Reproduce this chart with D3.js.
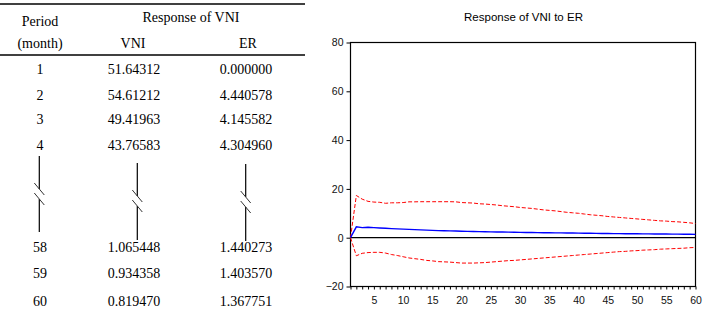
<!DOCTYPE html>
<html>
<head>
<meta charset="utf-8">
<script src="https://cdn.jsdelivr.net/npm/d3@7"></script>
<style>
  html, body { margin: 0; padding: 0; background: #fff; }
  svg { display: block; }
</style>
</head>
<body>
<div id="chart"></div>
<script>
// table data (Response of VNI)
const tablePeriods = ["1", "2", "3", "4", "58", "59", "60"]
const tableVNI = ["51.64312", "54.61212", "49.41963", "43.76583", "1.065448", "0.934358", "0.819470"]
const tableER = ["0.000000", "4.440578", "4.145582", "4.304960", "1.440273", "1.403570", "1.367751"]

// chart data: response of VNI to ER, periods 1..60
const response = [
  0.00, 4.44, 4.15, 4.30, 4.15, 4.00, 3.85, 3.72, 3.60, 3.50,
  3.40, 3.30, 3.20, 3.10, 3.00, 2.92, 2.85, 2.78, 2.72, 2.66,
  2.60, 2.55, 2.50, 2.45, 2.40, 2.36, 2.32, 2.28, 2.24, 2.20,
  2.16, 2.12, 2.08, 2.05, 2.02, 1.99, 1.96, 1.93, 1.90, 1.87,
  1.84, 1.81, 1.78, 1.75, 1.72, 1.69, 1.66, 1.64, 1.62, 1.60,
  1.58, 1.56, 1.54, 1.52, 1.50, 1.48, 1.46, 1.44, 1.40, 1.37
]
const upperBand = [
  0.0, 17.3, 15.8, 14.9, 14.6, 14.5, 14.1, 14.3, 14.3, 14.4,
  14.7, 14.7, 14.75, 14.75, 14.75, 14.75, 14.75, 14.75, 14.7, 14.4,
  14.3, 14.2, 13.9, 13.8, 13.6, 13.4, 13.1, 12.9, 12.7, 12.4,
  12.2, 12.0, 11.7, 11.4, 11.2, 11.0, 10.7, 10.4, 10.2, 10.0,
  9.7, 9.4, 9.2, 9.0, 8.7, 8.5, 8.3, 8.1, 7.9, 7.7,
  7.5, 7.3, 7.1, 6.9, 6.8, 6.6, 6.5, 6.3, 6.1, 5.8
]
const lowerBand = [
  0.0, -7.4, -6.4, -6.1, -6.0, -6.0, -6.3, -6.9, -7.3, -7.8,
  -8.3, -8.6, -8.9, -9.3, -9.5, -9.8, -9.9, -10.0, -10.2, -10.4,
  -10.4, -10.4, -10.3, -10.2, -10.0, -9.8, -9.6, -9.4, -9.3, -9.1,
  -8.9, -8.7, -8.5, -8.3, -8.1, -7.9, -7.7, -7.5, -7.3, -7.1,
  -6.9, -6.7, -6.5, -6.3, -6.1, -5.9, -5.7, -5.6, -5.4, -5.3,
  -5.1, -5.0, -4.9, -4.7, -4.6, -4.5, -4.4, -4.3, -4.1, -4.0
]
const yTicks = [-20, 0, 20, 40, 60, 80]
const xLabelTicks = [5, 10, 15, 20, 25, 30, 35, 40, 45, 50, 55, 60]

const width = 705
const height = 319

const svg = d3.select("#chart")
  .append("svg")
  .attr("width", width)
  .attr("height", height)

// ---------- table ----------
const serif = "'Liberation Serif', 'Times New Roman', serif"
const colX = { period: 40, vni: 134, er: 246 }
const rowY = [69, 95, 119, 145, 247, 273, 301]

const tbl = svg.append("g")
  .attr("font-family", serif)
  .attr("font-size", "14px")
  .attr("fill", "#000")
  .attr("text-anchor", "middle")

tbl.append("line").attr("x1", 0).attr("x2", 305).attr("y1", 4).attr("y2", 4)
  .attr("stroke", "#000").attr("stroke-width", 1.3)
tbl.append("line").attr("x1", 0).attr("x2", 305).attr("y1", 55).attr("y2", 55)
  .attr("stroke", "#000").attr("stroke-width", 1.3)

tbl.append("text").attr("x", colX.period).attr("y", 21).attr("dy", "0.35em").text("Period")
tbl.append("text").attr("x", colX.period).attr("y", 43).attr("dy", "0.35em").text("(month)")
tbl.append("text").attr("x", 191).attr("y", 17).attr("dy", "0.35em").text("Response of VNI")
tbl.append("text").attr("x", 133).attr("y", 43).attr("dy", "0.35em").text("VNI")
tbl.append("text").attr("x", 248).attr("y", 43).attr("dy", "0.35em").text("ER")

tablePeriods.forEach((p, i) => {
  tbl.append("text").attr("x", colX.period).attr("y", rowY[i]).attr("dy", "0.35em").text(p)
  tbl.append("text").attr("x", colX.vni).attr("y", rowY[i]).attr("dy", "0.35em").text(tableVNI[i])
  tbl.append("text").attr("x", colX.er).attr("y", rowY[i]).attr("dy", "0.35em").text(tableER[i])
})

// break marks between row 4 and row 58
const breaks = [
  { x: 39.3, y1: 156, y2: 232, yc: 194 },
  { x: 137.3, y1: 163, y2: 240, yc: 201 },
  { x: 245.7, y1: 164, y2: 241, yc: 202 }
]
breaks.forEach(b => {
  tbl.append("line").attr("x1", b.x).attr("x2", b.x).attr("y1", b.y1).attr("y2", b.yc - 5)
    .attr("stroke", "#000").attr("stroke-width", 1.2)
  tbl.append("line").attr("x1", b.x).attr("x2", b.x).attr("y1", b.yc + 5).attr("y2", b.y2)
    .attr("stroke", "#000").attr("stroke-width", 1.2)
  ;[-5, 5].forEach(o => {
    tbl.append("line")
      .attr("x1", b.x - 5).attr("y1", b.yc + o - 6)
      .attr("x2", b.x + 5).attr("y2", b.yc + o + 6)
      .attr("stroke", "#333").attr("stroke-width", 1)
  })
})

// ---------- chart ----------
const sans = "'Liberation Sans', Arial, sans-serif"
const plot = { left: 350.5, right: 695.5, top: 42.5, bottom: 286.5 }

const x = d3.scaleLinear().domain([1, 60]).range([plot.left, plot.right])
const y = d3.scaleLinear().domain([-20, 80]).range([plot.bottom, plot.top])
const periods = d3.range(1, 61)

svg.append("text")
  .attr("x", 523.5)
  .attr("y", 17)
  .attr("dy", "0.35em")
  .attr("text-anchor", "middle")
  .attr("font-family", sans)
  .attr("font-size", "11.5px")
  .attr("fill", "#000")
  .text("Response of VNI to ER")

// Y axis
const yAxis = svg.append("g")
  .attr("transform", `translate(${plot.left},0)`)
  .call(d3.axisLeft(y).tickValues(yTicks).tickSize(4).tickPadding(3))
yAxis.select(".domain").remove()

// X axis: small tick at every period, labels every 5
const xAxis = svg.append("g")
  .attr("transform", `translate(0,${plot.bottom})`)
  .call(d3.axisBottom(x).tickValues(periods).tickSize(3).tickPadding(7)
    .tickFormat(d => xLabelTicks.includes(d) ? d : ""))
xAxis.select(".domain").remove()

svg.selectAll(".tick text")
  .attr("font-family", sans)
  .attr("font-size", "10.5px")
  .attr("fill", "#111")
svg.selectAll(".tick line").attr("stroke", "#000")

// frame
svg.append("rect")
  .attr("x", plot.left).attr("y", plot.top)
  .attr("width", plot.right - plot.left)
  .attr("height", plot.bottom - plot.top)
  .attr("fill", "none")
  .attr("stroke", "#000")
  .attr("stroke-width", 1.2)

// zero line
svg.append("line")
  .attr("x1", plot.left).attr("x2", plot.right)
  .attr("y1", y(0)).attr("y2", y(0))
  .attr("stroke", "#000").attr("stroke-width", 1.2)

const line = d3.line()
  .x((d, i) => x(periods[i]))
  .y(d => y(d))

svg.append("path")
  .datum(upperBand)
  .attr("d", line)
  .attr("fill", "none")
  .attr("stroke", "#ff0000")
  .attr("stroke-width", 1)
  .attr("stroke-dasharray", "4,2")

svg.append("path")
  .datum(lowerBand)
  .attr("d", line)
  .attr("fill", "none")
  .attr("stroke", "#ff0000")
  .attr("stroke-width", 1)
  .attr("stroke-dasharray", "4,2")

svg.append("path")
  .datum(response)
  .attr("d", line)
  .attr("fill", "none")
  .attr("stroke", "#0000ff")
  .attr("stroke-width", 1.4)
</script>
</body>
</html>
